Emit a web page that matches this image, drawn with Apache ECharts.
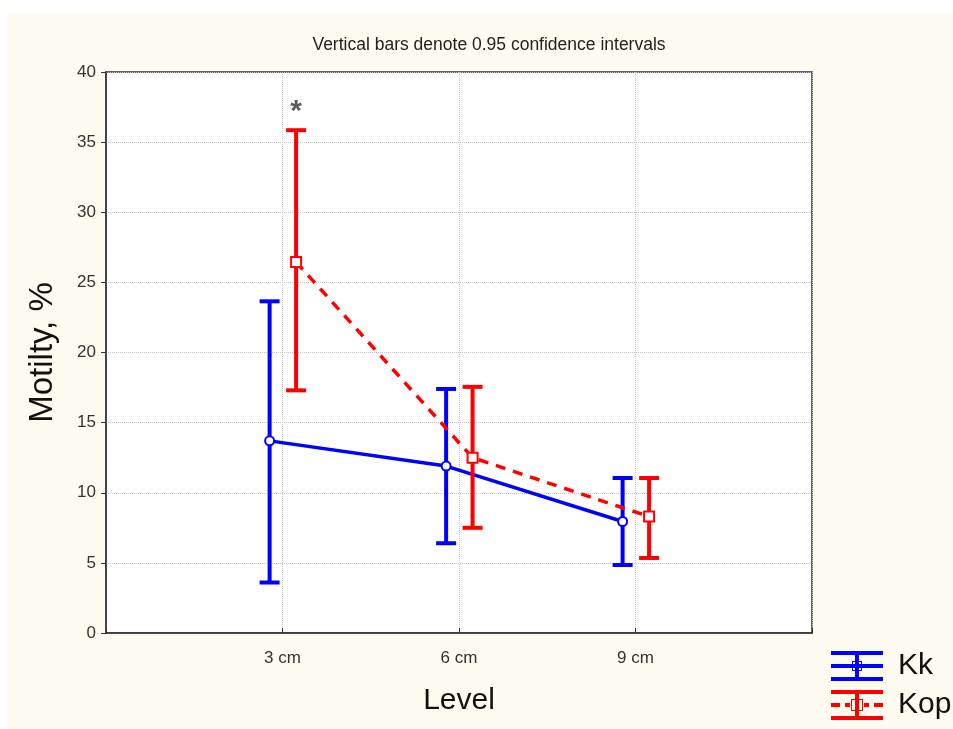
<!DOCTYPE html>
<html>
<head>
<meta charset="utf-8">
<script src="https://cdn.jsdelivr.net/npm/echarts@6/dist/echarts.min.js"></script>
<style>
  html, body { margin: 0; padding: 0; background: #fff; }
  #paper { position: absolute; left: 7px; top: 13px; width: 946px; height: 716px; background: #fefbf0; }
  #main { position: absolute; left: 0; top: 0; width: 953px; height: 729px; }
</style>
</head>
<body>
<div id="paper"></div>
<div id="main"></div>
<script>
// levels sit at x = 1, 2, 3 on a 0..4 value axis
const levels = ['3 cm', '6 cm', '9 cm'];
const levelPos = [1, 2, 3];

// Kk group: means and 0.95 CI
const kkMean = [13.7, 11.9, 7.95];
const kkLow = [3.6, 6.4, 4.85];
const kkHigh = [23.65, 17.4, 11.05];

// Kop group
const kopMean = [26.45, 12.5, 8.3];
const kopLow = [17.3, 7.5, 5.35];
const kopHigh = [35.85, 17.55, 11.05];

// small sideways shift so the bars do not overlap
const kkShift = -0.073;
const kopShift = 0.077;

// significance mark over Kop at 3 cm
const starLevel = 0;
const starValue = 37.2;

const yTicks = [0, 5, 10, 15, 20, 25, 30, 35, 40];

const font = 'Liberation Sans, Arial, sans-serif';

function points(mean, shift) {
    return mean.map((m, i) => [levelPos[i] + shift, m]);
}
function bars(lo, hi, shift) {
    return lo.map((l, i) => [levelPos[i] + shift, l, hi[i]]);
}

function renderErr(params, api) {
    let x = api.value(0);
    let top = api.coord([x, api.value(2)]);
    let bot = api.coord([x, api.value(1)]);
    let hw = 10;
    let style = { stroke: api.visual('color'), lineWidth: 4 };
    return {
        type: 'group',
        children: [
            { type: 'line', shape: { x1: top[0], y1: top[1], x2: bot[0], y2: bot[1] }, style: style },
            { type: 'line', shape: { x1: top[0] - hw, y1: top[1], x2: top[0] + hw, y2: top[1] }, style: style },
            { type: 'line', shape: { x1: bot[0] - hw, y1: bot[1], x2: bot[0] + hw, y2: bot[1] }, style: style }
        ]
    };
}

// legend glyphs: whisker bar with marker, as in the original program
const kkIcon = 'path://M0,0H52V4H0Z M0,13H52V17H0Z M0,26H52V30H0Z M24,0H28V30H24Z M21,10H31V20H21Z M22,11V19H30V11Z';
const kopIcon = 'path://M0,0H52V4H0Z M0,26H52V30H0Z M24,0H28V30H24Z M0,13H9V17H0Z M14,13H19V17H14Z M33,13H38V17H33Z M43,13H52V17H43Z M20,9H32V21H20Z M21,10V20H31V10Z';

let myChart = echarts.init(document.getElementById('main'));
myChart.setOption({
    backgroundColor: 'transparent',
    animation: false,
    title: {
        text: 'Vertical bars denote 0.95 confidence intervals',
        left: 484,
        top: 31,
        textAlign: 'center',
        textStyle: { fontFamily: font, fontSize: 17.5, fontWeight: 'normal', color: '#222' }
    },
    grid: {
        left: 106, top: 72, right: 141, bottom: 96,
        show: true, backgroundColor: '#fff', borderColor: '#333', borderWidth: 1.5
    },
    legend: {
        orient: 'vertical',
        left: 831,
        top: 651,
        height: 78,
        padding: 0,
        itemWidth: 52,
        itemHeight: 30,
        itemGap: 9,
        selectedMode: false,
        textStyle: { fontFamily: font, fontSize: 30, color: '#111', padding: [0, 0, 0, 10] },
        data: [
            { name: 'Kk', icon: kkIcon, itemStyle: { color: '#0000ff', borderWidth: 0 } },
            { name: 'Kop', icon: kopIcon, itemStyle: { color: '#ff0000', borderWidth: 0 } }
        ]
    },
    xAxis: {
        type: 'value',
        min: 0,
        max: 4,
        interval: 1,
        name: 'Level',
        nameLocation: 'middle',
        nameGap: 53,
        nameTextStyle: { fontFamily: font, fontSize: 30, color: '#111' },
        axisLine: { lineStyle: { color: '#333', width: 1.5 } },
        axisTick: { inside: true, length: 5, lineStyle: { color: '#333' } },
        axisLabel: {
            fontFamily: font, fontSize: 17, color: '#333', margin: 17,
            formatter: v => levels[levelPos.indexOf(v)] || ''
        },
        splitLine: { lineStyle: { color: '#c4c4c4', type: 'dotted', width: 1 } }
    },
    yAxis: {
        type: 'value',
        min: yTicks[0],
        max: yTicks[yTicks.length - 1],
        interval: 5,
        name: 'Motilty, %',
        nameLocation: 'middle',
        nameGap: 47,
        nameTextStyle: { fontFamily: font, fontSize: 33, color: '#111' },
        axisLine: { show: true, lineStyle: { color: '#333', width: 1.5 } },
        axisTick: { show: true, length: 5, lineStyle: { color: '#333' } },
        axisLabel: { fontFamily: font, fontSize: 17, color: '#333', margin: 10 },
        splitLine: { lineStyle: { color: '#c4c4c4', type: 'dotted', width: 1 } }
    },
    series: [
        {
            name: 'Kk',
            type: 'custom',
            renderItem: renderErr,
            itemStyle: { color: '#0000ff' },
            data: bars(kkLow, kkHigh, kkShift),
            z: 2
        },
        {
            name: 'Kk',
            type: 'line',
            data: points(kkMean, kkShift),
            symbol: 'emptyCircle',
            symbolSize: 9,
            itemStyle: { color: '#0000ff', borderWidth: 1 },
            lineStyle: { color: '#0000ff', width: 3.5 },
            z: 3
        },
        {
            name: 'Kop',
            type: 'custom',
            renderItem: renderErr,
            itemStyle: { color: '#ff0000' },
            data: bars(kopLow, kopHigh, kopShift),
            z: 4
        },
        {
            name: 'Kop',
            type: 'line',
            data: points(kopMean, kopShift),
            symbol: 'emptyRect',
            symbolSize: 10,
            itemStyle: { color: '#ff0000', borderWidth: 1 },
            lineStyle: { color: '#ff0000', width: 3.5, type: [10, 8] },
            z: 5
        },
        {
            name: 'star',
            type: 'scatter',
            symbol: 'circle',
            symbolSize: 1,
            itemStyle: { color: 'transparent' },
            data: [[levelPos[starLevel] + kopShift, starValue]],
            label: {
                show: true,
                position: 'inside',
                formatter: '*',
                fontFamily: font,
                fontSize: 30,
                fontWeight: 'bold',
                color: '#333'
            },
            silent: true,
            z: 6
        }
    ]
});
</script>
</body>
</html>
